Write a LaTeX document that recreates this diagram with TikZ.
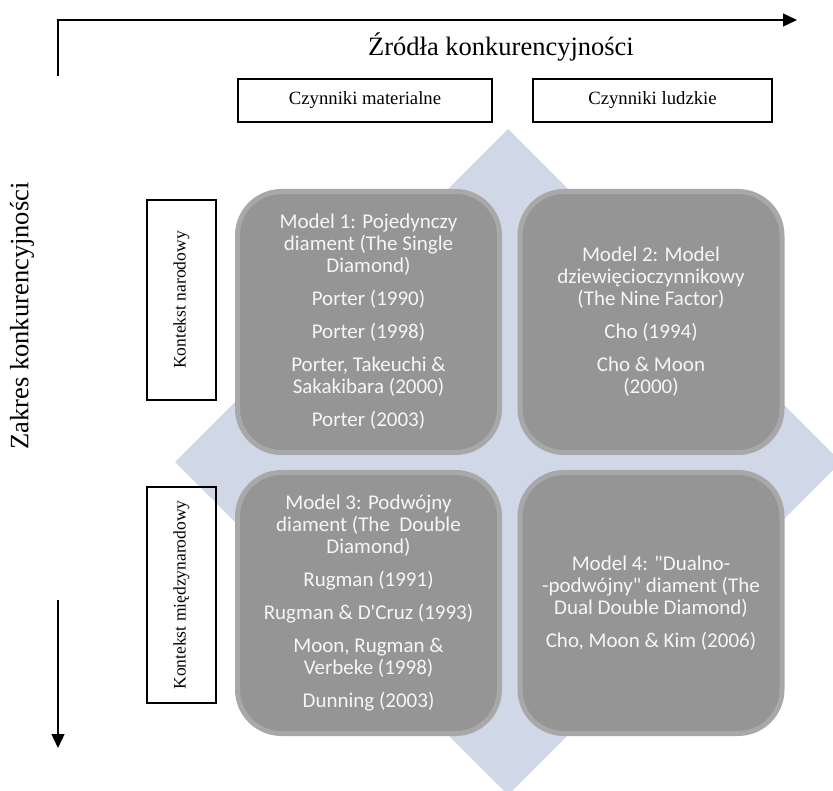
\documentclass[tikz,border=0pt]{standalone}
\usepackage{fontspec}
\setmainfont{Liberation Serif}
\newfontfamily\calfont[Ligatures=TeXOff]{Carlito}
\usetikzlibrary{arrows.meta}
\definecolor{diam}{RGB}{208,215,231}
\definecolor{boxfill}{RGB}{149,149,149}
\definecolor{boxedge}{RGB}{168,168,168}
\definecolor{txt}{RGB}{246,246,246}
\begin{document}
\begin{tikzpicture}[x=1pt,y=-1pt,
  hdr/.style={draw=black, line width=1.6pt, inner sep=0pt, font=\fontsize{18.7}{22}\selectfont},
  ctx/.style={hdr, rotate=90, minimum height=69.4pt, font=\fontsize{17.5}{20}\selectfont},
  model/.style={draw=boxedge, line width=5pt, fill=boxfill, rounded corners=44pt,
    minimum width=262pt, minimum height=261pt, inner sep=0pt, text=txt, align=center,
    font=\calfont\fontsize{21}{22}\selectfont},
  axis/.style={line width=1.3pt, -{Triangle[length=14pt,width=13pt]}},
  big/.style={font=\fontsize{26.5}{30}\selectfont, inner sep=0pt}]
\useasboundingbox (0,0) rectangle (833,791);
\clip (0,0) rectangle (833,791);
% background diamond
\fill[diam] (508,129) -- (841,462) -- (508,795) -- (175,462) -- cycle;
% axes
\coordinate (a0) at (58,76);
\coordinate (a1) at (58,20);
\coordinate (a2) at (797,20);
\draw[axis] (a0) -- (a1) -- (a2);
\coordinate (b0) at (58,600);
\coordinate (b1) at (58,748);
\draw[axis] (b0) -- (b1);
\node[big] (tit) at (501,47) {Źródła konkurencyjności};
\node[big, rotate=90] (zak) at (22,316) {Zakres konkurencyjności};
% header boxes
\node[hdr, minimum width=254.4pt, minimum height=43.4pt] (mat) at (365,100.5) {Czynniki materialne};
\node[hdr, minimum width=239.4pt, minimum height=43.4pt] (lud) at (652.5,100.5) {Czynniki ludzkie};
\node[ctx, minimum width=200.4pt] (nar) at (181.5,300) {Kontekst narodowy};
\node[ctx, minimum width=216.4pt] (mie) at (181.5,595) {Kontekst międzynarodowy};
% model boxes
\node[model] (m1) at (368.5,322) {Model 1: Pojedynczy\\ diament (The Single\\ Diamond)\\[11pt] Porter (1990)\\[11pt] Porter (1998)\\[11pt] Porter, Takeuchi \&\\ Sakakibara (2000)\\[11pt] Porter (2003)};
\node[model] (m2) at (651,322) {Model 2: Model\\ dziewięcioczynnikowy\\ (The Nine Factor)\\[11pt] Cho (1994)\\[11pt] Cho \& Moon\\ (2000)};
\node[model] (m3) at (368.5,603) {Model 3: Podwójny\\ diament (The\ \ Double\\ Diamond)\\[11pt] Rugman (1991)\\[11pt] Rugman \& D'Cruz (1993)\\[11pt] Moon, Rugman \&\\ Verbeke (1998)\\[11pt] Dunning (2003)};
\node[model] (m4) at (651,603) {Model 4: "Dualno-\\ -podwójny" diament (The\\ Dual Double Diamond)\\[11pt] Cho, Moon \& Kim (2006)};
\end{tikzpicture}
\end{document}
